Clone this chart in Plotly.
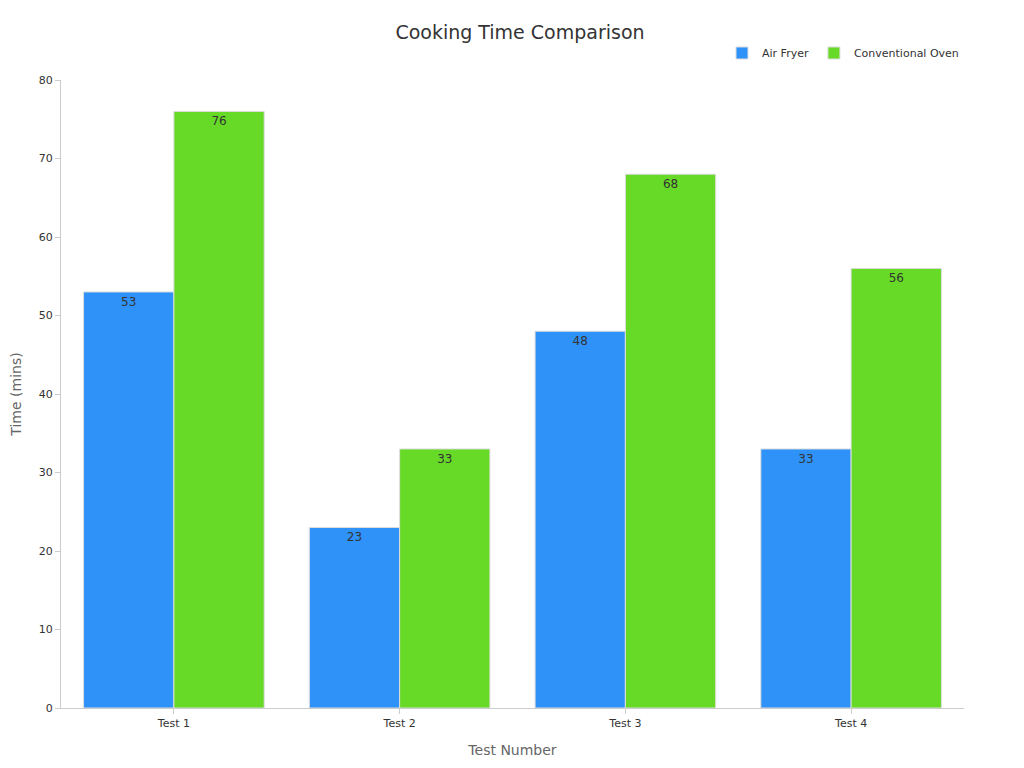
import plotly.graph_objects as go

tests = ["Test 1", "Test 2", "Test 3", "Test 4"]
air_fryer = [53, 23, 48, 33]
oven = [76, 33, 68, 56]

fig = go.Figure()
fig.add_trace(go.Bar(
    x=tests, y=air_fryer, name="Air Fryer",
    marker=dict(color="#2F92F8", line=dict(color="#dddddd", width=1)),
    text=air_fryer, textposition="inside", insidetextanchor="end",
    textfont=dict(color="#333333", size=12)
))
fig.add_trace(go.Bar(
    x=tests, y=oven, name="Conventional Oven",
    marker=dict(color="#66DA26", line=dict(color="#dddddd", width=1)),
    text=oven, textposition="inside", insidetextanchor="end",
    textfont=dict(color="#333333", size=12)
))

fig.update_layout(
    width=1024, height=768,
    font=dict(family="DejaVu Sans", color="#333333", size=11),
    title=dict(text="Cooking Time Comparison", x=0.5, y=0.977, xanchor="center",
               font=dict(size=19, color="#333333")),
    plot_bgcolor="white", paper_bgcolor="white",
    margin=dict(l=53, r=68, t=72, b=68),
    bargap=0.2, bargroupgap=0,
    legend=dict(orientation="h", x=1, xanchor="right", y=1.043, yanchor="middle",
                font=dict(size=11)),
    xaxis=dict(title=dict(text="Test Number", font=dict(size=14, color="#666666")),
               showline=True, linecolor="#cccccc", ticks="outside", tickcolor="#cccccc",
               tickfont=dict(size=11), automargin=False),
    yaxis=dict(title=dict(text="Time (mins)", font=dict(size=14, color="#666666"), standoff=16),
               range=[0, 80], dtick=10, showgrid=False, showline=True,
               linecolor="#cccccc", ticks="outside", tickcolor="#cccccc",
               tickfont=dict(size=11), zeroline=False, automargin=False),
)

fig.write_html("out.html")
